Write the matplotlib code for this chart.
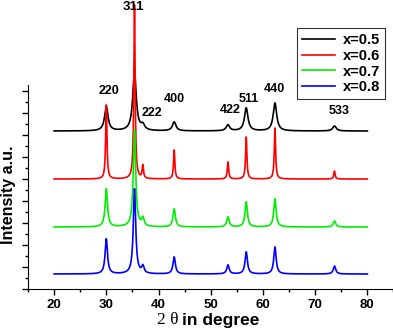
import numpy as np
import matplotlib
matplotlib.use("Agg")
from matplotlib import pyplot as plt
from matplotlib.ticker import MultipleLocator

plt.rcParams['font.family'] = ['Liberation Sans', 'DejaVu Sans']
plt.rcParams['font.weight'] = 'bold'

# peak table (2theta, heights per sample, widths)
hkl = ['220', '311', '222', '400', '422', '511', '440', '533']
pos = [30.0, 35.4, 37.0, 43.0, 53.3, 56.8, 62.3, 73.7]

h_05 = [24, 59, 5, 9, 6, 23, 28, 5]
h_06 = [74, 174, 13, 29, 17, 42, 51, 8]
h_07 = [38, 97, 8, 18, 10, 25, 28, 6]
h_08 = [35, 85, 7, 17, 9, 22, 27, 8]

labels = ['x=0.5', 'x=0.6', 'x=0.7', 'x=0.8']
colors = ['black', 'red', '#00ee00', 'blue']
offsets = [158, 110, 62, 15]
fwhm = [0.8, 0.3, 0.55, 0.55]
heights = [h_05, h_06, h_07, h_08]

# peak label positions (2theta, intensity)
lab_x = [30.6, 35.1, 38.8, 43.1, 53.8, 57.2, 62.1, 74.5]
lab_y = [198, 282, 176, 190, 179, 190, 200, 178]
lab_fs = [9, 9.5, 9, 9, 9, 9, 9, 9]

tt = np.arange(20, 80.001, 0.02)

fig = plt.figure(figsize=(3.93, 3.33), dpi=100)
ax = fig.add_axes([0.0712, 0.1321, 0.93, 0.6126])

for lab, c, off, w, h in zip(labels, colors, offsets, fwhm, heights):
    g = (w / 2) ** 2
    y = np.zeros_like(tt)
    for p, a in zip(pos, h):
        y += a * g / ((tt - p) ** 2 + g)
    ax.plot(tt, y + off, color=c, lw=1.2, label=lab, clip_on=False)

for t, x, y, fs in zip(hkl, lab_x, lab_y, lab_fs):
    ax.text(x, y, t, ha='center', va='center', fontsize=fs, fontweight='bold')

ax.set_xlim(15, 85)
ax.set_ylim(0, 204)
ax.spines['top'].set_visible(False)
ax.spines['right'].set_visible(False)
ax.xaxis.set_major_locator(MultipleLocator(10))
ax.xaxis.set_minor_locator(MultipleLocator(5))
ax.yaxis.set_major_locator(MultipleLocator(22))
ax.yaxis.set_minor_locator(MultipleLocator(11))
ax.set_yticklabels([])
ax.set_xticks(range(20, 81, 10))
ax.tick_params(axis='both', which='major', length=4, width=1)
ax.tick_params(axis='both', which='minor', length=2, width=1)
ax.tick_params(axis='x', labelsize=9.5)

ax.set_ylabel('Intensity a.u.', fontsize=11.5, fontweight='bold')
ax.yaxis.set_label_coords(-0.033, 0.46)
fig.text(0.455, 0.039, '2 θ', family='Liberation Serif', fontweight='normal',
         fontsize=12.5, ha='right', va='center')
fig.text(0.463, 0.039, 'in degree', fontsize=12.5, fontweight='bold', ha='left', va='center')

leg = ax.legend(loc='upper right', bbox_to_anchor=(0.980, 0.916),
                bbox_transform=fig.transFigure, fontsize=10.5, frameon=True,
                fancybox=False, edgecolor='black', handlelength=2.3,
                labelspacing=0.12, borderpad=0.35, handletextpad=0.5,
                borderaxespad=0)
leg.get_frame().set_linewidth(0.8)

fig.savefig('out.png', dpi=100)
